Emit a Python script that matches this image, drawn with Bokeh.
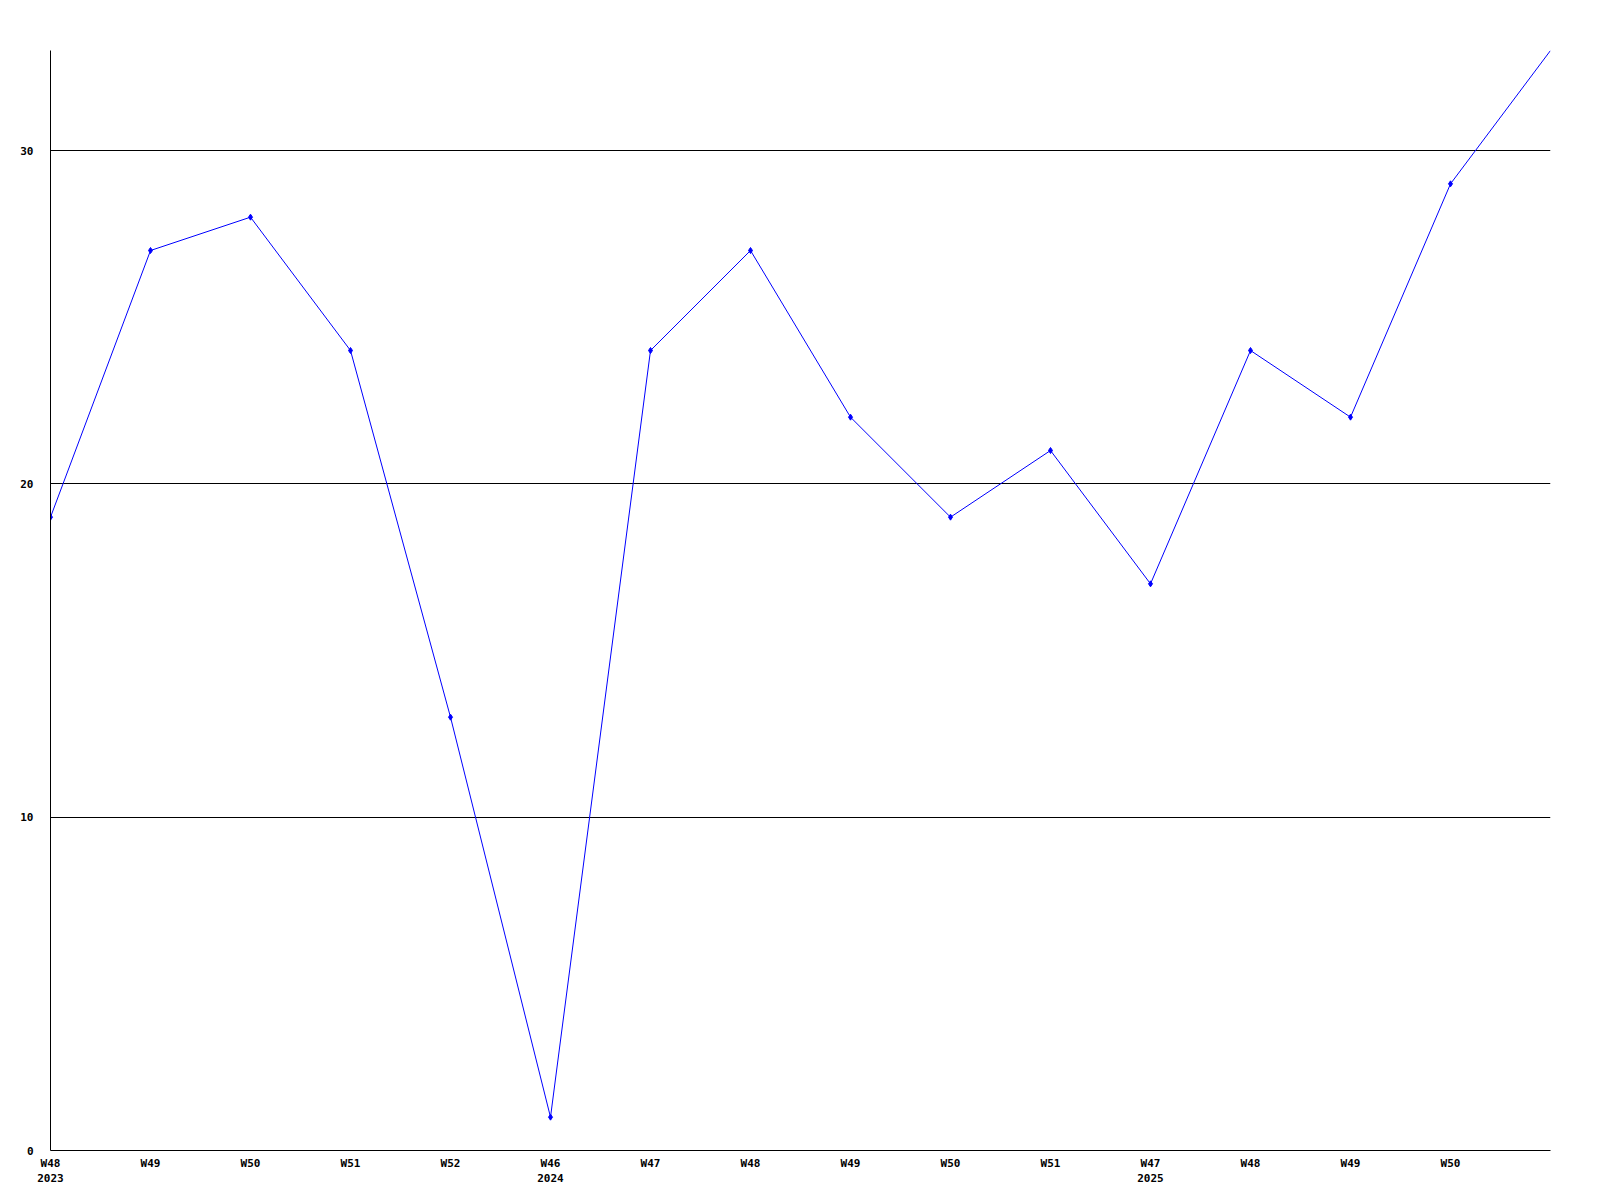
from bokeh.plotting import figure
from bokeh.models import Range1d, LinearAxis, FixedTicker
from bokeh.embed import file_html
from bokeh.resources import INLINE

# data
week_labels = ["W48", "W49", "W50", "W51", "W52", "W46", "W47", "W48", "W49", "W50",
               "W51", "W47", "W48", "W49", "W50"]
year_labels = {0: "2023", 5: "2024", 11: "2025"}
values = [19, 27, 28, 24, 13, 1, 24, 27, 22, 19, 21, 17, 24, 22, 29, 33]
y_ticks = [0, 10, 20, 30]

xs = list(range(len(values)))

p = figure(width=1592, height=1192, output_backend="svg", toolbar_location=None,
           x_range=Range1d(0, len(values) - 1), y_range=Range1d(0, 33),
           x_axis_type=None, y_axis_type=None,
           min_border_left=50, min_border_right=42, min_border_top=50, min_border_bottom=42)
p.outline_line_color = None
p.background_fill_color = "white"
p.border_fill_color = "white"

font = "DejaVu Sans Mono"

def style(ax, standoff):
    ax.major_tick_out = 0
    ax.major_tick_in = 0
    ax.minor_tick_out = 0
    ax.minor_tick_in = 0
    ax.major_tick_line_color = None
    ax.minor_tick_line_color = None
    ax.major_label_standoff = standoff
    ax.major_label_text_font = font
    ax.major_label_text_font_size = "11px"
    ax.major_label_text_font_style = "bold"
    ax.major_label_text_color = "black"

yax = LinearAxis(ticker=FixedTicker(ticks=y_ticks))
style(yax, 17)
yax.axis_line_color = "black"
p.add_layout(yax, "left")

wax = LinearAxis(ticker=FixedTicker(ticks=list(range(len(week_labels)))),
                 major_label_overrides={i: w for i, w in enumerate(week_labels)})
style(wax, 6)
wax.axis_line_color = "black"
p.add_layout(wax, "below")

yrax = LinearAxis(ticker=FixedTicker(ticks=list(year_labels.keys())),
                  major_label_overrides=year_labels)
style(yrax, 1)
yrax.axis_line_color = None
p.add_layout(yrax, "below")

p.ygrid.grid_line_color = None
p.xgrid.grid_line_color = None
from bokeh.models import Grid
g = Grid(dimension=1, ticker=FixedTicker(ticks=[t for t in y_ticks if t > 0]),
         grid_line_color="black", grid_line_width=1)
p.add_layout(g)

p.line(xs, values, line_color="#0000ff", line_width=1)
p.scatter(xs[:-1], values[:-1], marker="diamond", size=6, color="#0000ff")

open("out.html", "w").write(file_html(p, INLINE))
